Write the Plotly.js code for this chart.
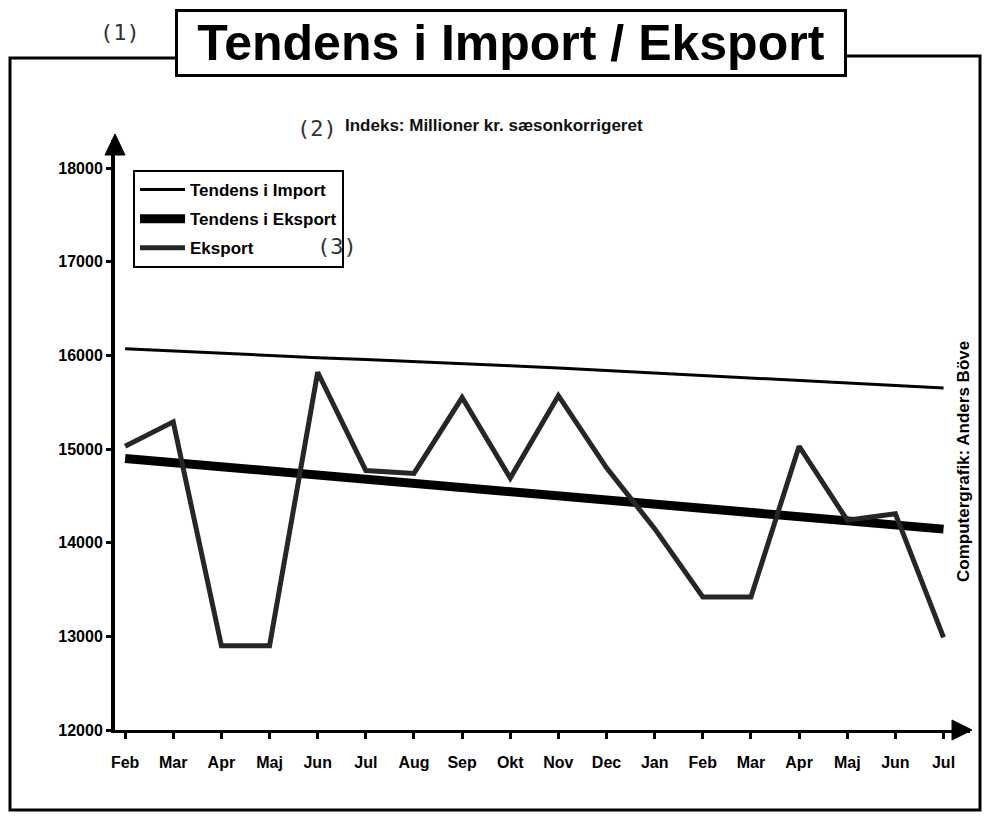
<!DOCTYPE html>
<html>
<head>
<meta charset="utf-8">
<script src="https://cdn.plot.ly/plotly-3.0.1.min.js"></script>
<style>html,body{margin:0;padding:0;background:#fff;}#chart{width:985px;height:818px;}</style>
</head>
<body>
<div id="chart"></div>
<script>
// ---- data ----
const months = ["Feb","Mar","Apr","Maj","Jun","Jul","Aug","Sep","Okt","Nov","Dec","Jan","Feb","Mar","Apr","Maj","Jun","Jul"];
const importTrend = [16070,16045,16020,15998,15976,15955,15935,15913,15890,15865,15838,15812,15785,15758,15730,15705,15678,15652];
const eksportTrend = [14900,14855,14810,14765,14720,14675,14635,14595,14555,14510,14460,14415,14370,14325,14280,14235,14190,14145];
const eksport = [15030,15290,12900,12900,15820,14770,14740,15550,14690,15570,14800,14150,13420,13420,15030,14240,14310,12990];
const yTicks = [12000,13000,14000,15000,16000,17000,18000];
const seriesNames = ["Tendens i Import","Tendens i Eksport","Eksport"];

const xIdx = months.map((m,i)=>i);

// pixel geometry helpers (plot area: x 115..970, y 140..730)
const L=115, R=970, T=140, B=730, W=985, H=818;
const px = x => (x-L)/(R-L);
const py = y => (B-y)/(B-T);

const traces = [
  {x:xIdx, y:importTrend, name:seriesNames[0], mode:"lines", legendgroup:"a",
   line:{color:"#000", width:3}},
  {x:xIdx, y:eksportTrend, name:seriesNames[1], mode:"lines", legendgroup:"b",
   line:{color:"#000", width:9}},
  {x:xIdx, y:eksport, name:seriesNames[2], mode:"lines", legendgroup:"c",
   line:{color:"#262626", width:5}}
];

const fontB = {family:"Liberation Sans, Arial, sans-serif", color:"#000", weight:"bold"};

const layout = {
  width:W, height:H,
  margin:{l:L, r:W-R, t:T, b:H-B, pad:0},
  paper_bgcolor:"#fff", plot_bgcolor:"#fff",
  showlegend:true,
  legend:{x:px(133), y:py(170), xanchor:"left", yanchor:"top",
    bordercolor:"#000", borderwidth:2, bgcolor:"#fff",
    font:Object.assign({}, fontB, {size:17}), tracegroupgap:4, itemwidth:45},
  xaxis:{range:[-0.21,17.55], tickmode:"array", tickvals:xIdx, ticktext:months,
    showgrid:false, zeroline:false, showline:true, linecolor:"#000", linewidth:3,
    ticks:"outside", ticklen:6, tickwidth:3, tickcolor:"#000",
    ticklabelstandoff:10, tickfont:Object.assign({}, fontB, {size:16})},
  yaxis:{range:[12000,18300], tickmode:"array", tickvals:yTicks,
    ticktext:yTicks.map(String),
    showgrid:false, zeroline:false, showline:true, linecolor:"#000", linewidth:4,
    ticks:"outside", ticklen:5, tickwidth:3, tickcolor:"#000",
    ticklabelstandoff:0, tickfont:Object.assign({}, fontB, {size:16})},
  shapes:[
    // outer frame, broken by the title box
    {type:"path", xref:"paper", yref:"paper",
     path:`M ${px(178)},${py(58)} L ${px(10)},${py(58)} L ${px(10)},${py(810)} L ${px(980)},${py(810)} L ${px(980)},${py(56)} L ${px(845)},${py(56)}`,
     line:{color:"#000", width:3}},
    // arrow heads
    {type:"path", xref:"paper", yref:"paper",
     path:`M ${px(972)},${py(730)} L ${px(952)},${py(720)} L ${px(952)},${py(740)} Z`,
     fillcolor:"#000", line:{color:"#000", width:1}},
    {type:"path", xref:"paper", yref:"paper",
     path:`M ${px(115)},${py(134)} L ${px(105)},${py(155)} L ${px(125)},${py(155)} Z`,
     fillcolor:"#000", line:{color:"#000", width:1}}
  ],
  annotations:[
    {text:"Tendens i Import / Eksport", xref:"paper", yref:"paper",
     x:px(511), y:py(43), xanchor:"center", yanchor:"middle", showarrow:false,
     font:{family:"Liberation Sans, Arial, sans-serif", size:50, color:"#000", weight:"bold"},
     bordercolor:"#000", borderwidth:3, bgcolor:"#fff", borderpad:2, width:662, height:58},
    {text:"(1)", xref:"paper", yref:"paper", x:px(120), y:py(32), xanchor:"center", yanchor:"middle",
     showarrow:false, font:{family:"DejaVu Sans Mono, monospace", size:22, color:"#333"}},
    {text:"(2)", xref:"paper", yref:"paper", x:px(317), y:py(129), xanchor:"center", yanchor:"middle",
     showarrow:false, font:{family:"DejaVu Sans Mono, monospace", size:22, color:"#333"}},
    {text:"Indeks: Millioner kr. sæsonkorrigeret", xref:"paper", yref:"paper", x:px(343), y:py(125),
     xanchor:"left", yanchor:"middle", showarrow:false,
     font:{family:"Liberation Sans, Arial, sans-serif", size:17, color:"#111", weight:"bold"}},
    {text:"(3)", xref:"paper", yref:"paper", x:px(337), y:py(246), xanchor:"center", yanchor:"middle",
     showarrow:false, font:{family:"DejaVu Sans Mono, monospace", size:22, color:"#333"}},
    {text:"Computergrafik: Anders Böve", xref:"paper", yref:"paper", x:px(963), y:py(462),
     xanchor:"center", yanchor:"middle", textangle:-90, showarrow:false,
     font:Object.assign({}, fontB, {size:17})}
  ]
};

Plotly.newPlot("chart", traces, layout, {displayModeBar:false, staticPlot:true});
</script>
</body>
</html>
